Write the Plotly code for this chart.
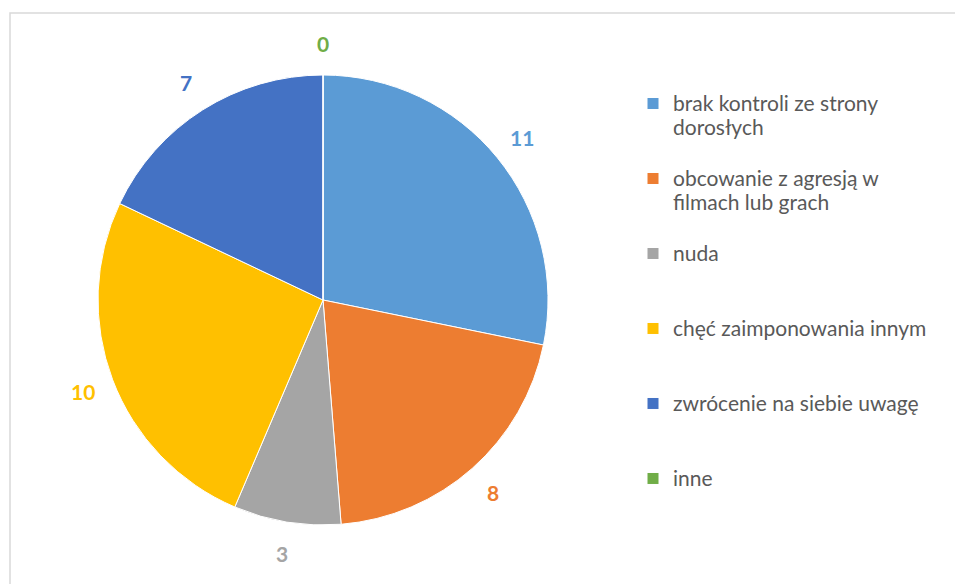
import math
import plotly.graph_objects as go

categories = [
    "brak kontroli ze strony dorosłych",
    "obcowanie z agresją w filmach lub grach",
    "nuda",
    "chęć zaimponowania innym",
    "zwrócenie na siebie uwagę",
    "inne",
]
# wrapped legend text, as in the reference (each entry padded to 3 lines for even spacing)
legend_lines = [
    ["brak kontroli ze strony", "dorosłych"],
    ["obcowanie z agresją w", "filmach lub grach"],
    ["nuda"],
    ["chęć zaimponowania innym"],
    ["zwrócenie na siebie uwagę"],
    ["inne"],
]
values = [11, 8, 3, 10, 7, 0]
colors = ["#5B9BD5", "#ED7D31", "#A5A5A5", "#FFC000", "#4472C4", "#70AD47"]

W, H = 955, 584
cx, cy, R = 323, 300, 225
label_r = 257


def legend_text(lines):
    shown = "<br>".join('<span style="font-size:21px">%s</span>' % ln for ln in lines)
    pad = "<br> " * (3 - len(lines))
    return shown + pad


legend_labels = [legend_text(l) for l in legend_lines]

fig = go.Figure()
fig.add_trace(go.Pie(
    labels=legend_labels,
    values=values,
    sort=False,
    direction="clockwise",
    rotation=0,
    textinfo="none",
    customdata=categories,
    hovertemplate="%{customdata}: %{value}<extra></extra>",
    marker=dict(colors=colors, line=dict(color="white", width=1)),
    domain=dict(x=[(cx - R) / W, (cx + R) / W], y=[1 - (cy + R) / H, 1 - (cy - R) / H]),
))

# value labels placed outside each slice, at the slice mid-angle
total = sum(values)
cum = 0
annotations = []
for v, c in zip(values, colors):
    mid = (cum + v / 2) / total * 2 * math.pi
    cum += v
    px = cx + label_r * math.sin(mid)
    py = cy - label_r * math.cos(mid)
    annotations.append(dict(
        x=px / W, y=1 - py / H, xref="paper", yref="paper",
        text=str(v), showarrow=False,
        font=dict(family="Lato", size=21, color=c, weight="bold"),
        xanchor="center", yanchor="middle",
    ))

fig.update_layout(
    width=W, height=H,
    margin=dict(l=0, r=0, t=0, b=0),
    paper_bgcolor="white",
    plot_bgcolor="white",
    annotations=annotations,
    showlegend=True,
    legend=dict(
        x=633 / W, y=1 - 85 / H, xanchor="left", yanchor="top",
        font=dict(family="Lato", size=18.46, color="#595959"),
        valign="top",
        traceorder="normal",
        itemclick=False,
    ),
    shapes=[dict(
        type="rect", xref="paper", yref="paper",
        x0=10 / W, x1=1.05, y0=-0.05, y1=1 - 13 / H,
        line=dict(color="#D9D9D9", width=1.5),
    )],
)

fig.write_html("out.html", config={"displayModeBar": False},
               post_script="document.body.style.margin='0';")
